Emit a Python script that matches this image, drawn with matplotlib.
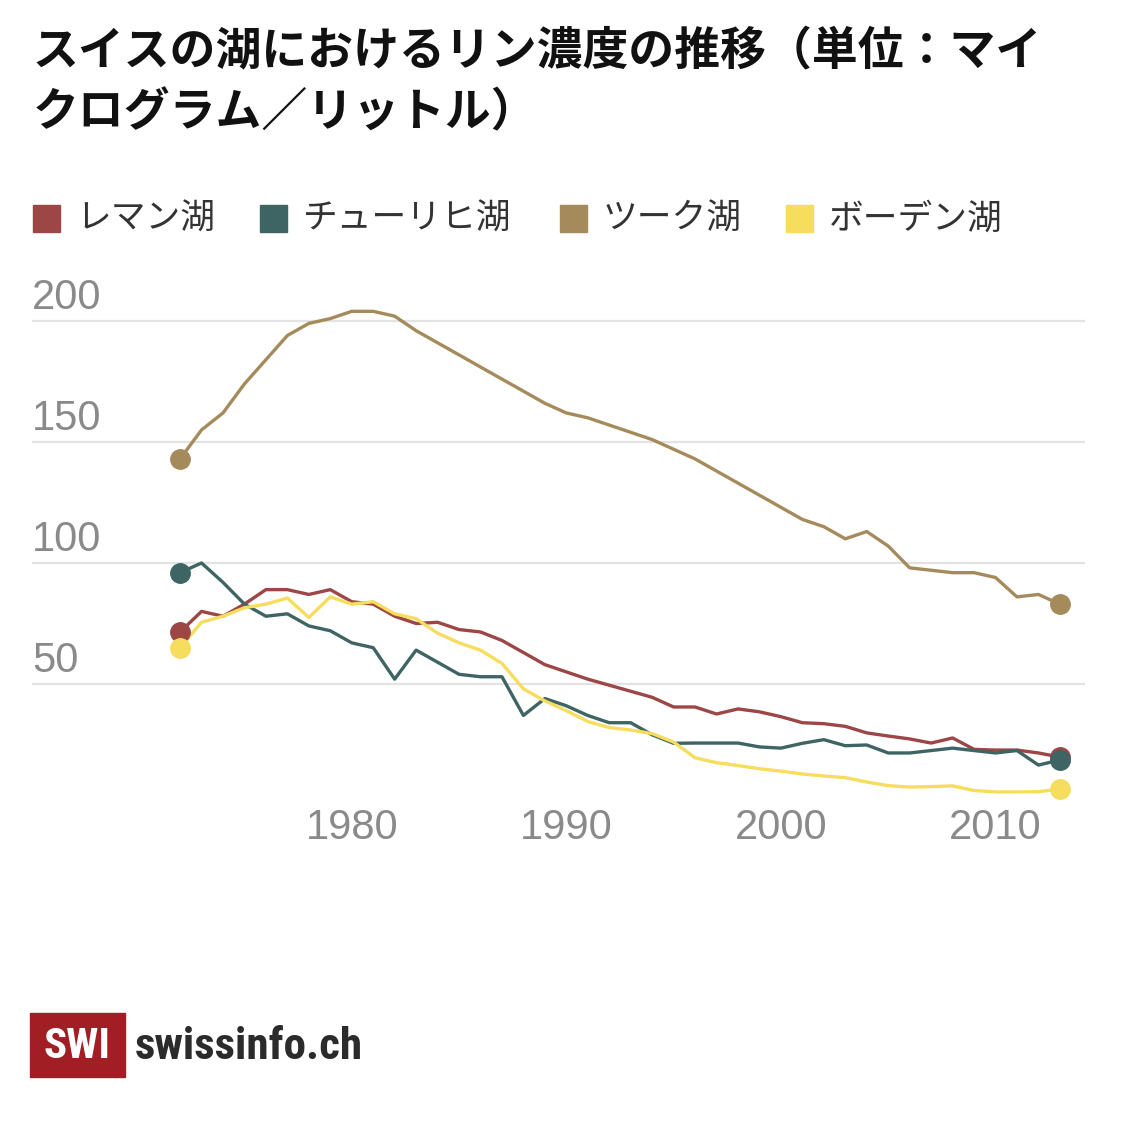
import matplotlib.pyplot as plt
from matplotlib.patches import Rectangle
from matplotlib import font_manager

plt.rcParams['font.family'] = ['Noto Sans CJK JP', 'DejaVu Sans']

years = list(range(1972, 2014))

# レマン湖 (Geneva)
leman = [71.5, 80, 78, 83, 89, 89, 87, 89, 84, 83, 78, 75, 75.5, 72.5, 71.5, 68,
         63, 58, 55, 52, 49.5, 47, 44.5, 40.5, 40.5, 37.6, 39.7, 38.5, 36.5, 34,
         33.6, 32.5, 29.8, 28.5, 27.3, 25.6, 27.7, 23, 22.7, 22.7, 21.5, 19.8]
# チューリヒ湖 (Zurich)
zurich = [96, 100, 92, 83, 78, 79, 74, 72, 67, 65, 52, 64, 59, 54, 53, 53,
          37, 44, 41, 37, 34, 34, 29, 25.5, 25.6, 25.6, 25.6, 24, 23.5, 25.5,
          27, 24.5, 24.8, 21.5, 21.5, 22.5, 23.5, 22.5, 21.5, 22.5, 16.5, 18.6]
# ツーク湖 (Zug)
zug = [143, 155, 162, 174, 184, 194, 199, 201, 204, 204, 202, 196, 191, 186, 181, 176,
       171, 166, 162, 160, 157, 154, 151, 147, 143, 138, 133, 128, 123, 118,
       115, 110, 113, 107, 98, 97, 96, 96, 94, 86, 87, 83]
# ボーデン湖 (Constance)
boden = [65, 75.5, 78, 81.5, 83, 85.5, 77.5, 86, 83, 84, 79, 77, 71, 67, 64, 58.5,
         48, 43, 39, 34.5, 32, 31, 29.5, 26, 19.5, 17.5, 16.3, 15, 14, 12.8,
         12, 11.3, 9.5, 8, 7.4, 7.6, 7.9, 6, 5.4, 5.4, 5.5, 6.6]

names = ['レマン湖', 'チューリヒ湖', 'ツーク湖', 'ボーデン湖']
series = [leman, zurich, zug, boden]
colors = ['#9c4646', '#3e6464', '#a58b5c', '#f6dd5e']

yticks = [50, 100, 150, 200]
xticks = [1980, 1990, 2000, 2010]

# narrow font for the logo if one is around
installed = {f.name for f in font_manager.fontManager.ttflist}
narrow = [n for n in ['Liberation Sans Narrow', 'DejaVu Sans Condensed',
                      'Roboto Condensed', 'Open Sans Condensed'] if n in installed]
logo_font = narrow[0] if narrow else 'Roboto'
logo_size = 31 if narrow else 26

W, H = 1125, 1140
fig = plt.figure(figsize=(W / 100, H / 100), dpi=100)
fig.patch.set_facecolor('white')

ax = fig.add_axes([32 / W, 1 - 805 / H, (1085 - 32) / W, 215 * 2.42 / H])
ax.set_xlim(1965.1, 2014.17)
ax.set_ylim(0, 215)

for v in yticks:
    ax.axhline(v, color='#e3e3e3', lw=1.6, zorder=1)
    ax.text(0.0, v + 5.0, str(v), transform=ax.get_yaxis_transform(),
            ha='left', va='baseline', fontsize=30, color='#8a8a8a',
            family='Liberation Sans')

for vals, c in zip(series, colors):
    ax.plot(years, vals, color=c, lw=2.4, solid_joinstyle='round',
            solid_capstyle='round', zorder=3)
    ax.plot([years[0], years[-1]], [vals[0], vals[-1]], 'o', color=c,
            ms=14, zorder=4)

ax.set_xticks(xticks)
ax.set_xticklabels([str(x) for x in xticks], fontsize=30, color='#8a8a8a',
                   family='Liberation Sans')
ax.tick_params(axis='x', length=0, pad=2)
ax.set_yticks([])
for s in ax.spines.values():
    s.set_visible(False)

# title
fig.text(33 / W, 1 - 52 / H, 'スイスの湖におけるリン濃度の推移（単位：マイ',
         fontsize=33, fontweight='bold', color='#111111', va='center', ha='left')
fig.text(33 / W, 1 - 113 / H, 'クログラム／リットル）',
         fontsize=33, fontweight='bold', color='#111111', va='center', ha='left')

# legend
leg_x = [33, 260, 560, 786]
for x0, name, c in zip(leg_x, names, colors):
    fig.patches.append(Rectangle((x0 / W, 1 - 232 / H), 27 / W, 27 / H,
                                 transform=fig.transFigure, color=c))
    fig.text((x0 + 43) / W, 1 - 219 / H, name, fontsize=25, color='#333333',
             va='center', ha='left')

# logo
fig.patches.append(Rectangle((30 / W, 1 - 1077 / H), 95 / W, 64 / H,
                             transform=fig.transFigure, color='#a01e24'))
fig.text(77 / W, 1 - 1046 / H, 'SWI', fontsize=logo_size, fontweight='bold',
         color='white', ha='center', va='center', family=logo_font)
fig.text(135 / W, 1 - 1047 / H, 'swissinfo.ch', fontsize=logo_size + 1.5,
         fontweight='bold', color='#2b2b2b', ha='left', va='center', family=logo_font)

fig.savefig('out.png', dpi=100, facecolor='white')
